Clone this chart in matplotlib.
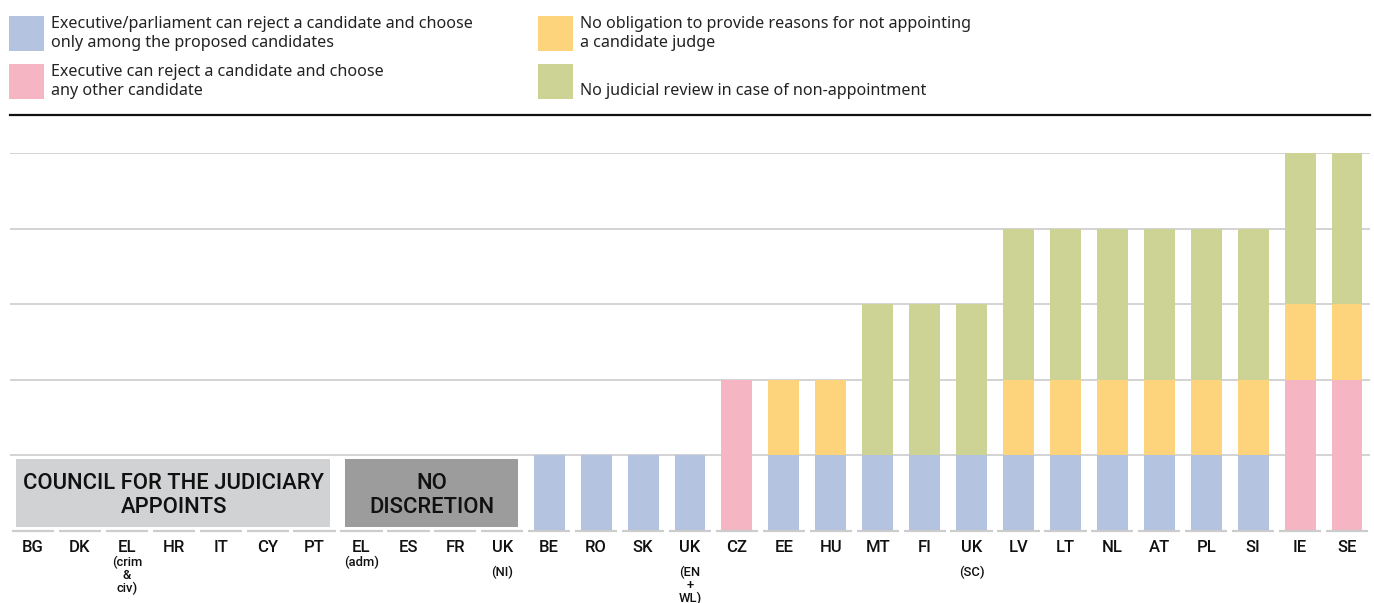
import matplotlib
matplotlib.use("Agg")
import matplotlib.pyplot as plt
from matplotlib.patches import Rectangle
from matplotlib.lines import Line2D

plt.rcParams['font.family'] = ['Noto Sans', 'DejaVu Sans']

# Country codes and the small qualifiers printed under some of them
countries = ["BG", "DK", "EL", "HR", "IT", "CY", "PT", "EL", "ES", "FR", "UK",
             "BE", "RO", "SK", "UK", "CZ", "EE", "HU", "MT", "FI", "UK",
             "LV", "LT", "NL", "AT", "PL", "SI", "IE", "SE"]
qualifiers = {2: ("(crim\n&\nciv)", "near"), 7: ("(adm)", "near"),
              10: ("(NI)", "far"), 14: ("(EN\n+\nWL)", "far"), 20: ("(SC)", "far")}

# Stacked segments (one unit per criterion)
reject_proposed = [0, 0, 0, 0, 0, 0, 0, 0, 0, 0, 0,
                   1, 1, 1, 1, 0, 1, 1, 1, 1, 1, 1, 1, 1, 1, 1, 1, 0, 0]
reject_any      = [0, 0, 0, 0, 0, 0, 0, 0, 0, 0, 0,
                   0, 0, 0, 0, 2, 0, 0, 0, 0, 0, 0, 0, 0, 0, 0, 0, 2, 2]
no_reasons      = [0, 0, 0, 0, 0, 0, 0, 0, 0, 0, 0,
                   0, 0, 0, 0, 0, 1, 1, 0, 0, 0, 1, 1, 1, 1, 1, 1, 1, 1]
no_review       = [0, 0, 0, 0, 0, 0, 0, 0, 0, 0, 0,
                   0, 0, 0, 0, 0, 0, 0, 2, 2, 2, 2, 2, 2, 2, 2, 2, 2, 2]

legend_labels = ["Executive/parliament can reject a candidate and choose\nonly among the proposed candidates",
                 "Executive can reject a candidate and choose\nany other candidate",
                 "No obligation to provide reasons for not appointing\na candidate judge",
                 "\nNo judicial review in case of non-appointment"]

# Grouping boxes: (first index, last index, text)
council_group = (0, 6, "COUNCIL FOR THE JUDICIARY\nAPPOINTS")
no_discretion_group = (7, 10, "NO\nDISCRETION")

C_BLUE = "#b3c3e0"
C_PINK = "#f5b5c3"
C_YELLOW = "#fdd47b"
C_GREEN = "#cdd295"
C_LGRAY = "#d1d2d4"
C_DGRAY = "#9c9c9c"
C_GRID = "#cccccc"

W, H = 1374, 603
fig = plt.figure(figsize=(W / 100, H / 100), dpi=100)

def fx(px):
    return px / W

def fy(py):
    return 1 - py / H

ax = fig.add_axes([fx(10), fy(531), fx(1360), fy(153) - fy(531)])
n = len(countries)
x = list(range(n))
ax.set_xlim(-0.49, n - 1 + 0.49)
ax.set_ylim(0, 5)
for s in ax.spines.values():
    s.set_visible(False)
ax.set_xticks([])
ax.set_yticks([])
ax.patch.set_alpha(0)

for yv in range(1, 6):
    ax.axhline(yv, color=C_GRID, lw=1.2, zorder=0)
for i in x:
    ax.plot([i - 0.45, i + 0.45], [0, 0], color=C_GRID, lw=1.6, solid_capstyle='butt',
            zorder=3, clip_on=False)

bw = 0.66
base = [a + b for a, b in zip(reject_proposed, reject_any)]
ax.bar(x, reject_proposed, bw, color=C_BLUE, zorder=2)
ax.bar(x, reject_any, bw, bottom=reject_proposed, color=C_PINK, zorder=2)
ax.bar(x, no_reasons, bw, bottom=base, color=C_YELLOW, zorder=2)
base2 = [a + b for a, b in zip(base, no_reasons)]
ax.bar(x, no_review, bw, bottom=base2, color=C_GREEN, zorder=2)

# Grouping boxes
for (i0, i1, txt), col in ((council_group, C_LGRAY), (no_discretion_group, C_DGRAY)):
    ax.add_patch(Rectangle((i0 - 0.36, 0.05), (i1 - i0) + 0.69, 0.9,
                           facecolor=col, edgecolor='none', zorder=2))
    ax.text((i0 + i1) / 2, 0.47, txt, ha='center', va='center', multialignment='center',
            fontsize=15.8, family=['Roboto', 'Noto Sans'], fontweight='medium',
            color='#111111', linespacing=1.22, zorder=4)

# Category labels
for i, c in enumerate(countries):
    xp = ax.transData.transform((i, 0))[0] / fig.dpi / fig.get_figwidth()
    fig.text(xp, fy(548), c, ha='center', va='center', fontsize=12,
             family=['Roboto', 'Noto Sans'], fontweight='medium', color='#111111')
    if i in qualifiers:
        q, kind = qualifiers[i]
        top = 556 if kind == "near" else 566
        fig.text(xp, fy(top), q, ha='center', va='top', multialignment='center',
                 fontsize=9.4, family=['Roboto', 'Noto Sans'], fontweight='medium',
                 color='#111111', linespacing=0.95)

# Legend
sw = 35
entries = [(9, 16, C_BLUE, legend_labels[0]), (9, 64, C_PINK, legend_labels[1]),
           (538, 16, C_YELLOW, legend_labels[2]), (538, 64, C_GREEN, legend_labels[3])]
for lx, ly, col, lab in entries:
    fig.patches.append(Rectangle((fx(lx), fy(ly + sw)), fx(sw), fy(0) - fy(sw),
                                 transform=fig.transFigure, facecolor=col,
                                 edgecolor='none'))
    fig.text(fx(lx + 42), fy(ly + 17.5), lab, ha='left', va='center',
             fontsize=11.6, color='#222222', linespacing=1.3)

fig.lines.append(Line2D([fx(10), fx(1370)], [fy(114.5), fy(114.5)],
                        transform=fig.transFigure, color='#111111', lw=1.6))

fig.savefig("out.png", dpi=100)
